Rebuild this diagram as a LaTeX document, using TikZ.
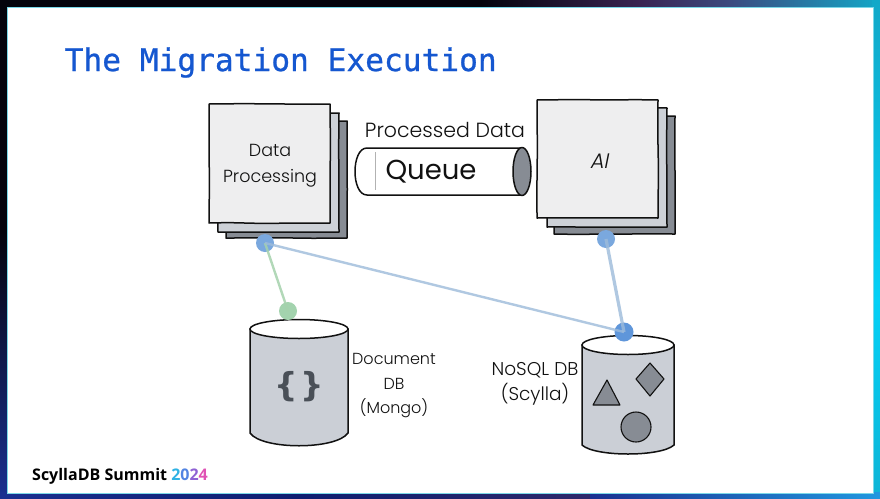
\documentclass[tikz,border=0pt]{standalone}
\usepackage{fontspec}
\usetikzlibrary{shapes.geometric,decorations.pathmorphing}
\setmainfont{Poppins}
\newfontfamily\hand{Poppins Light}
\newfontfamily\handslant{Poppins Light}[FakeSlant=0.2]
\newfontfamily\handbold{Poppins}
\newfontfamily\titlefont{DejaVu Sans Mono}[FakeBold=0.8]
\newfontfamily\bracefont{DejaVu Sans}
\newfontfamily\brandfont{Open Sans}
\definecolor{ttl}{HTML}{1557D0}
\definecolor{ink}{HTML}{111111}
\definecolor{fillA}{HTML}{EEEEEF}
\definecolor{fillB}{HTML}{CDD1D7}
\definecolor{fillC}{HTML}{878C94}
\definecolor{cyl}{HTML}{CBCFD6}
\definecolor{bracec}{HTML}{4A5058}
\definecolor{bluedot}{HTML}{7AA8DE}
\definecolor{bluedeep}{HTML}{5F96DA}
\definecolor{blueline}{HTML}{9DBBDA}
\definecolor{greendot}{HTML}{A3D3AE}
\definecolor{greenline}{HTML}{A5D2AC}
\definecolor{edgeK}{HTML}{04040C}
\definecolor{edgeP}{HTML}{3A2452}
\definecolor{edgeV}{HTML}{3C4A80}
\definecolor{edgeT}{HTML}{12A8C8}
\definecolor{edgeC}{HTML}{04D0F6}
\definecolor{edgeN}{HTML}{0E1E70}
\definecolor{edgeL}{HTML}{1A3090}
\definecolor{edgeB}{HTML}{2098E0}
\definecolor{panelline}{HTML}{7AD8E8}
\definecolor{yrA}{HTML}{2FB2E4}
\definecolor{yrB}{HTML}{5284E2}
\definecolor{yrC}{HTML}{8F62D4}
\definecolor{yrD}{HTML}{E052B4}
\tikzset{
  sheet/.style={draw=ink,line width=1.5pt,line join=round,decorate,decoration={random steps,segment length=34pt,amplitude=.45pt}},
  handtxt/.style={font=\hand\fontsize{17.5}{20}\selectfont,text=ink,align=center,inner sep=0pt},
  dot/.style={circle,minimum size=#1,inner sep=0pt},
  bluenode/.style={dot=18pt,fill=bluedot},
  deepnode/.style={dot=19pt,fill=bluedeep},
  greennode/.style={dot=18pt,fill=greendot},
  bluelink/.style={blueline,line width=2.4pt,opacity=.8},
  heavylink/.style={blueline,line width=3.2pt,opacity=.8},
  greenlink/.style={greenline,line width=2.4pt,opacity=.85},
  cylbody/.style={fill=cyl,draw=ink,line width=1.5pt},
  shapeink/.style={fill=fillC,draw=ink,line width=1.1pt,line join=round},
}
\begin{document}
\begin{tikzpicture}[x=1pt,y=-1pt]
\useasboundingbox (0,0) rectangle (880,498);
% backdrop
\fill[edgeK] (0,0) rectangle (880,498);
\shade[left color=edgeK,right color=edgeP] (480,0) rectangle (640,8);
\shade[left color=edgeP,right color=edgeV] (640,0) rectangle (730,8);
\shade[left color=edgeV,right color=edgeT] (730,0) rectangle (880,8);
\shade[top color=edgeT,bottom color=edgeC] (872,0) rectangle (880,300);
\shade[top color=edgeC,bottom color=edgeT!70!edgeC] (872,300) rectangle (880,498);
\shade[top color=edgeK,bottom color=edgeL] (0,230) rectangle (8,498);
\shade[left color=edgeL,right color=edgeN] (0,492) rectangle (300,498);
\shade[left color=edgeN,right color=edgeP!60!edgeL] (300,492) rectangle (590,498);
\shade[left color=edgeL,right color=edgeB] (590,492) rectangle (880,498);
\fill[white,draw=panelline,line width=.8pt] (7,7) rectangle (873,493);
% title
\node[anchor=base west,inner sep=0pt,font=\titlefont\fontsize{31.2}{31}\selectfont,text=ttl] (title) at (64.5,71) {The Migration Execution};
% stack left
\draw[sheet,fill=fillC] (226,121) -- (347,121) -- (347,238) -- (226,238) -- cycle;
\draw[sheet,fill=fillB] (218,113) -- (339,113) -- (339,232) -- (218,232) -- cycle;
\draw[sheet,fill=fillA] (209,104) -- (330,104) -- (330,223) -- (209,223) -- cycle;
\node[handtxt] (dp) at (270,166) {Data\\[6pt]Processing};
% stack right
\draw[sheet,fill=fillC] (554,116) -- (675,116) -- (675,234) -- (554,234) -- cycle;
\draw[sheet,fill=fillB] (547,108) -- (667,108) -- (667,227) -- (547,227) -- cycle;
\draw[sheet,fill=fillA] (537,100) -- (658,100) -- (658,218) -- (537,218) -- cycle;
\node[handtxt,font=\handslant\fontsize{21}{22}\selectfont] (ai) at (599,161) {AI};
% queue
\draw[fill=white,draw=ink,line width=1.5pt] (367,148) .. controls (351,148) and (351,195) .. (367,195) -- (522,195) -- (522,148) -- cycle;
\draw[gray!60,line width=.5pt] (375,152) -- (375,190);
\draw[shapeink,line width=1.5pt] (522,171.5) ellipse (9 and 24);
\node[handtxt,font=\handbold\fontsize{27.5}{30}\selectfont] (queue) at (431,172) {Queue};
\node[handtxt,font=\hand\fontsize{20.5}{22}\selectfont] (pd) at (445,130) {Processed Data};
% cylinder left
\draw[cylbody] (250,329) -- (250,433) .. controls (262,450) and (336,450) .. (348,433) -- (348,329) -- cycle;
\draw[fill=white,draw=ink,line width=1.5pt] (299,329) ellipse (49 and 9.5);
\node[font=\bracefont\bfseries\fontsize{33}{33}\selectfont,text=bracec,inner sep=0pt] (brace) at (299,387) {\{\hspace{3pt}\}};
\node[handtxt,font=\hand\fontsize{16}{18}\selectfont] (doc) at (394,385.5) {Document\\[7pt]DB\\[6pt](Mongo)};
% cylinder right
\draw[cylbody] (582,345) -- (582,445) .. controls (595,457) and (661,457) .. (674,445) -- (674,345) -- cycle;
\draw[fill=white,draw=ink,line width=1.5pt] (628,345) ellipse (46 and 9.5);
\node[handtxt,font=\hand\fontsize{18.5}{20}\selectfont] (nosql) at (535,384) {NoSQL DB\\[5pt](Scylla)};
\draw[shapeink] (607,380) -- (620,405) -- (593,405) -- cycle;
\draw[shapeink] (650,363) -- (664,379) -- (650,396) -- (636,379) -- cycle;
\draw[shapeink] (636,427) circle (15);
% connectors
\node[greennode] (g1) at (288,311) {};
\node[bluenode] (b1) at (265,243) {};
\node[bluenode] (b2) at (606,239) {};
\node[deepnode] (b3) at (624,332) {};
\draw[greenlink] (b1.center) -- (g1.center);
\draw[bluelink] (b1.center) -- (b3.center);
\draw[heavylink] (b2.center) -- (b3.center);
% brand
\node[anchor=base west,inner sep=0pt,font=\brandfont\bfseries\fontsize{16}{18}\selectfont] (brand) at (32,480) {ScyllaDB Summit \textcolor{yrA}{2}\textcolor{yrB}{0}\textcolor{yrC}{2}\textcolor{yrD}{4}};
\end{tikzpicture}
\end{document}
